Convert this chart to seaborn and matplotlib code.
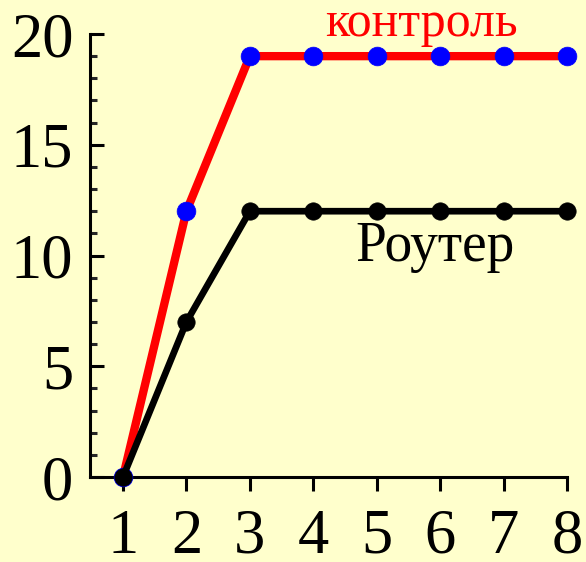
import matplotlib
matplotlib.use("Agg")
import matplotlib.pyplot as plt
import seaborn as sns
from matplotlib.ticker import MultipleLocator

# Данные
x_vals = [1, 2, 3, 4, 5, 6, 7, 8]
kontrol = [0, 12, 19, 19, 19, 19, 19, 19]
router = [0, 7, 12, 12, 12, 12, 12, 12]

sns.set_style("ticks")
plt.rcParams['font.family'] = ['Liberation Serif', 'DejaVu Serif']

bg = '#FFFFCC'
fig = plt.figure(figsize=(5.86, 5.62), dpi=100, facecolor=bg)
ax = fig.add_axes([0.1536, 0.1512, 0.8140, 0.7883], facecolor=bg)

sns.lineplot(x=x_vals, y=kontrol, ax=ax, color='red', linewidth=6,
             marker='o', markersize=13.5, markerfacecolor='blue',
             markeredgecolor='blue', markeredgewidth=0.5,
             clip_on=False, zorder=3)
sns.lineplot(x=x_vals, y=router, ax=ax, color='black', linewidth=4.8,
             marker='o', markersize=12.5, markerfacecolor='black',
             markeredgecolor='black', markeredgewidth=0.5,
             clip_on=False, zorder=4)

ax.text(5.71, 19.9, 'контроль', color='red', fontsize=36,
        ha='center', va='baseline')
ax.text(5.92, 9.75, 'Роутер', color='black', fontsize=40,
        ha='center', va='baseline')

ax.set_xlim(0.48, 8)
ax.set_ylim(0, 20)
ax.set_xticks(x_vals)
ax.yaxis.set_major_locator(MultipleLocator(5))
ax.yaxis.set_minor_locator(MultipleLocator(1))

for s in ['top', 'right']:
    ax.spines[s].set_visible(False)
for s in ['left', 'bottom']:
    ax.spines[s].set_linewidth(2.2)
    ax.spines[s].set_color('black')

ax.tick_params(axis='y', which='major', direction='in', length=10, width=2.2,
               labelsize=45, pad=12, colors='black')
ax.tick_params(axis='y', which='minor', direction='in', length=5, width=2.2)
ax.tick_params(axis='x', which='major', direction='out', length=10, width=2.2,
               labelsize=45, pad=13, colors='black')

fig.savefig('out.png', dpi=100, facecolor=bg)
